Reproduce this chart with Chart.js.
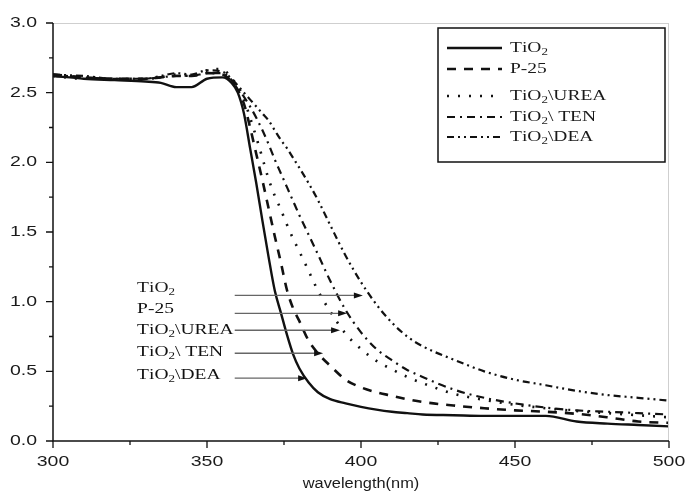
<!DOCTYPE html>
<html>
<head>
<meta charset="utf-8">
<script src="https://cdn.jsdelivr.net/npm/chart.js@4"></script>
<style>
  html, body { margin: 0; padding: 0; background: #fff; }
  #wrap { width: 686px; height: 491px; }
</style>
</head>
<body>
<div id="wrap"><canvas id="grafico"></canvas></div>
<script>
// dados (absorbância x comprimento de onda)
const wavelengths = [300, 310, 320, 330, 335, 340, 345, 350, 355, 358, 360, 362, 364, 366, 368, 370, 372, 374, 376, 378, 380, 383, 386, 390, 395, 400, 405, 410, 415, 420, 430, 440, 450, 460, 470, 480, 490, 500];
const tio2 = [2.62, 2.60, 2.59, 2.58, 2.57, 2.54, 2.54, 2.60, 2.61, 2.57, 2.50, 2.35, 2.10, 1.85, 1.58, 1.32, 1.08, 0.92, 0.76, 0.62, 0.52, 0.42, 0.35, 0.30, 0.27, 0.245, 0.225, 0.21, 0.20, 0.19, 0.185, 0.18, 0.18, 0.18, 0.14, 0.125, 0.115, 0.105];
const p25 = [2.63, 2.61, 2.60, 2.60, 2.61, 2.62, 2.62, 2.64, 2.63, 2.58, 2.52, 2.42, 2.25, 2.06, 1.87, 1.67, 1.47, 1.28, 1.08, 0.95, 0.86, 0.72, 0.63, 0.54, 0.44, 0.385, 0.35, 0.325, 0.30, 0.28, 0.255, 0.235, 0.22, 0.21, 0.195, 0.17, 0.14, 0.13];
const urea = [2.62, 2.60, 2.60, 2.60, 2.61, 2.63, 2.62, 2.66, 2.67, 2.60, 2.55, 2.45, 2.32, 2.18, 2.03, 1.88, 1.76, 1.66, 1.55, 1.45, 1.36, 1.22, 1.08, 0.93, 0.77, 0.66, 0.575, 0.515, 0.46, 0.415, 0.34, 0.295, 0.26, 0.235, 0.215, 0.20, 0.185, 0.17];
const ten = [2.63, 2.61, 2.60, 2.60, 2.61, 2.62, 2.62, 2.64, 2.64, 2.59, 2.53, 2.47, 2.40, 2.32, 2.23, 2.13, 2.02, 1.92, 1.82, 1.72, 1.62, 1.48, 1.34, 1.15, 0.94, 0.78, 0.66, 0.58, 0.51, 0.46, 0.37, 0.31, 0.27, 0.24, 0.22, 0.21, 0.20, 0.19];
const dea = [2.63, 2.62, 2.60, 2.60, 2.62, 2.64, 2.63, 2.66, 2.65, 2.60, 2.55, 2.50, 2.45, 2.40, 2.35, 2.30, 2.23, 2.16, 2.10, 2.03, 1.96, 1.85, 1.73, 1.55, 1.33, 1.14, 0.98, 0.85, 0.75, 0.68, 0.585, 0.50, 0.44, 0.40, 0.36, 0.33, 0.31, 0.29];

const nomes = ['TiO₂', 'P-25', 'TiO₂\\UREA', 'TiO₂\\ TEN', 'TiO₂\\DEA'];
const xTicks = [300, 350, 400, 450, 500];
const yTicks = [0.0, 0.5, 1.0, 1.5, 2.0, 2.5, 3.0];

// setas de anotação (em unidades dos eixos)
const rotuloX = 327.3;
const rotuloY = [1.10, 0.95, 0.795, 0.637, 0.472];
const setaInicio = 359;
const setaFim = [400.6, 395.5, 393.2, 387.7, 382.5];
const setaY = [1.045, 0.916, 0.795, 0.63, 0.451];

const estilos = [
  { dash: [], width: 2.4 },
  { dash: [9, 8], width: 2.6 },
  { dash: [2, 9], width: 2.6 },
  { dash: [8, 5, 2, 5], width: 2.2 },
  { dash: [7, 4, 2, 4, 2, 4], width: 2.2 }
];

const series = [tio2, p25, urea, ten, dea];

function texto(ctx, s, x, y, font, sx, align) {
  ctx.save();
  ctx.font = font;
  ctx.textBaseline = 'middle';
  const w = ctx.measureText(s).width * sx;
  let x0 = x;
  if (align === 'center') x0 = x - w / 2;
  if (align === 'right') x0 = x - w;
  ctx.translate(x0, y);
  ctx.scale(sx, 1);
  ctx.textAlign = 'left';
  ctx.fillText(s, 0, 0);
  ctx.restore();
}

// texto com subscrito (₂)
function textoQuimico(ctx, s, x, y, size, sx) {
  ctx.save();
  ctx.translate(x, y);
  ctx.scale(sx, 1);
  ctx.textBaseline = 'middle';
  ctx.textAlign = 'left';
  let cx = 0;
  for (const ch of s) {
    if (ch === '₂') {
      ctx.font = `${Math.round(size * 0.65)}px "Liberation Serif"`;
      ctx.fillText('2', cx, size * 0.28);
      cx += ctx.measureText('2').width;
    } else {
      ctx.font = `${size}px "Liberation Serif"`;
      ctx.fillText(ch, cx, 0);
      cx += ctx.measureText(ch).width;
    }
  }
  ctx.restore();
}

const decoracao = {
  id: 'decoracao',
  afterDraw(chart) {
    const ctx = chart.ctx;
    const a = chart.chartArea;
    const xs = chart.scales.x, ys = chart.scales.y;
    ctx.save();
    ctx.fillStyle = '#1a1a1a';

    // moldura clara no topo e à direita
    ctx.strokeStyle = '#cfcfcf';
    ctx.lineWidth = 1;
    ctx.beginPath();
    ctx.moveTo(a.left, a.top + 0.5); ctx.lineTo(a.right, a.top + 0.5);
    ctx.moveTo(a.right - 0.5, a.top); ctx.lineTo(a.right - 0.5, a.bottom);
    ctx.stroke();

    // eixos
    ctx.strokeStyle = '#111';
    ctx.lineWidth = 1.5;
    ctx.beginPath();
    ctx.moveTo(a.left, a.top); ctx.lineTo(a.left, a.bottom); ctx.lineTo(a.right, a.bottom);
    ctx.stroke();

    // marcas dos eixos
    ctx.lineWidth = 1.3;
    ctx.beginPath();
    for (let v = 300; v <= 500; v += 25) {
      const px = xs.getPixelForValue(v);
      const len = v % 50 === 0 ? 7 : 4;
      ctx.moveTo(px, a.bottom); ctx.lineTo(px, a.bottom + len);
    }
    for (let v = 0; v <= 3.0001; v += 0.25) {
      const py = ys.getPixelForValue(v);
      const len = Math.round(v * 100) % 50 === 0 ? 7 : 4;
      ctx.moveTo(a.left, py); ctx.lineTo(a.left - len, py);
    }
    ctx.stroke();

    xTicks.forEach(v => texto(ctx, String(v), xs.getPixelForValue(v), a.bottom + 21, '15px "Liberation Sans"', 1.3, 'center'));
    yTicks.forEach(v => texto(ctx, v.toFixed(1), a.left - 16, ys.getPixelForValue(v), '15px "Liberation Sans"', 1.3, 'right'));
    texto(ctx, 'wavelength(nm)', (a.left + a.right) / 2, a.bottom + 43, '14px "Liberation Sans"', 1.17, 'center');

    // legenda
    ctx.strokeStyle = '#111';
    ctx.lineWidth = 1.5;
    ctx.setLineDash([]);
    ctx.strokeRect(438, 28, 227, 134);
    const linhasY = [48, 69, 96, 117, 137];
    nomes.forEach((n, i) => {
      ctx.setLineDash(estilos[i].dash);
      ctx.lineWidth = estilos[i].width;
      ctx.beginPath();
      ctx.moveTo(447, linhasY[i]); ctx.lineTo(502, linhasY[i]);
      ctx.stroke();
      textoQuimico(ctx, n, 510, linhasY[i], 15, 1.3);
    });
    ctx.setLineDash([]);

    // rótulos e setas
    nomes.forEach((n, i) => {
      textoQuimico(ctx, n, xs.getPixelForValue(rotuloX), ys.getPixelForValue(rotuloY[i]), 15, 1.3);
      const x0 = xs.getPixelForValue(setaInicio);
      const x1 = xs.getPixelForValue(setaFim[i]);
      const y = ys.getPixelForValue(setaY[i]);
      ctx.strokeStyle = '#666';
      ctx.lineWidth = 1.4;
      ctx.beginPath();
      ctx.moveTo(x0, y); ctx.lineTo(x1 - 7, y);
      ctx.stroke();
      ctx.fillStyle = '#111';
      ctx.beginPath();
      ctx.moveTo(x1, y); ctx.lineTo(x1 - 9, y - 3); ctx.lineTo(x1 - 9, y + 3);
      ctx.closePath();
      ctx.fill();
    });
    ctx.restore();
  }
};

new Chart(document.getElementById('grafico'), {
  type: 'line',
  data: {
    datasets: series.map((s, i) => ({
      label: nomes[i],
      data: wavelengths.map((w, j) => ({ x: w, y: s[j] })),
      borderColor: '#111',
      borderWidth: estilos[i].width,
      borderDash: estilos[i].dash,
      pointRadius: 0,
      fill: false,
      cubicInterpolationMode: 'monotone'
    }))
  },
  options: {
    responsive: true,
    maintainAspectRatio: false,
    animation: false,
    layout: { padding: { left: 53, right: 17, top: 23, bottom: 50 } },
    plugins: { legend: { display: false }, tooltip: { enabled: false } },
    scales: {
      x: { type: 'linear', min: 300, max: 500, display: false },
      y: { min: 0, max: 3, display: false }
    }
  },
  plugins: [decoracao]
});
</script>
</body>
</html>
